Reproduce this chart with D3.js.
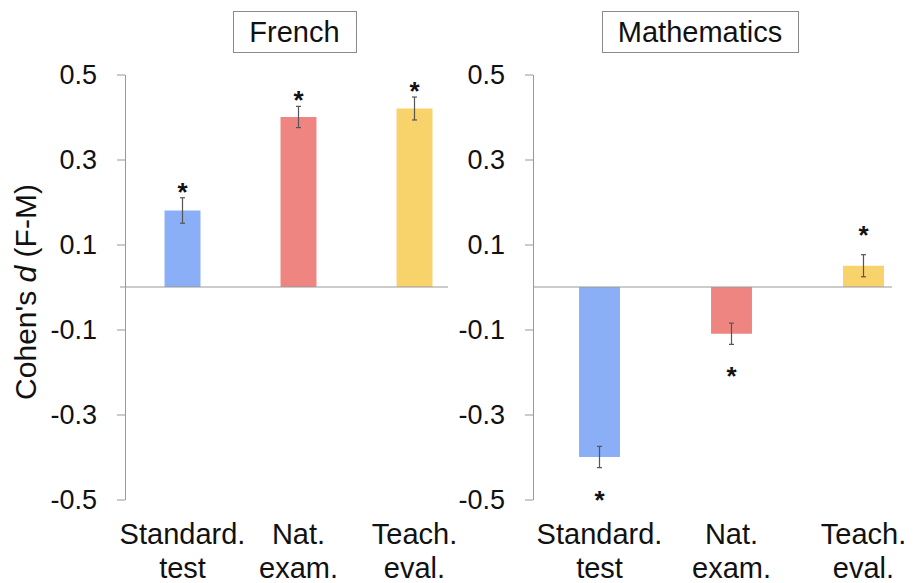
<!DOCTYPE html>
<html>
<head>
<meta charset="utf-8">
<script src="https://cdn.jsdelivr.net/npm/d3@7"></script>
<style>
  body { margin: 0; background: #fff; }
  text { font-family: "Liberation Sans", Arial, Helvetica, sans-serif; fill: #111; }
</style>
</head>
<body>
<script>
// values
var categories = ["Standard. test", "Nat. exam.", "Teach. eval."];
var frenchValues = [0.18, 0.40, 0.42];
var frenchErrors = [0.03, 0.025, 0.027];
var mathValues = [-0.40, -0.11, 0.05];
var mathErrors = [0.025, 0.025, 0.026];
var significant = [true, true, true];
var yTicks = [0.5, 0.3, 0.1, -0.1, -0.3, -0.5];
var barColors = ["#8aaff6", "#ee8581", "#f8d26b"];

var width = 914, height = 583;

const svg = d3.select("body")
    .append("svg")
    .attr("width", width)
    .attr("height", height);

var yscale = d3.scaleLinear()
    .domain([-0.5, 0.5])
    .range([499.5, 74.5]);

var panels = [
    {title: "French", values: frenchValues, errors: frenchErrors, axisX: 125, x0: 124.5, x1: 472.5,
     zero: [120, 448], box: [233, 356], starGap: 12},
    {title: "Mathematics", values: mathValues, errors: mathErrors, axisX: 533, x0: 533.5, x1: 929.5,
     zero: [533, 892], box: [602, 798], starGap: 26}
];

panels.forEach(function(p) {
    var g = svg.append("g");

    var xscale = d3.scaleBand()
        .domain(categories)
        .range([p.x0, p.x1])
        .paddingInner(0.69)
        .paddingOuter(0.345);

    // title box
    g.append("rect")
        .attr("x", p.box[0] + 0.5)
        .attr("y", 11.5)
        .attr("width", p.box[1] - p.box[0])
        .attr("height", 41)
        .attr("fill", "none")
        .attr("stroke", "#8a8a8a");
    g.append("text")
        .attr("x", (p.box[0] + p.box[1]) / 2)
        .attr("y", 42)
        .attr("text-anchor", "middle")
        .attr("font-size", 29)
        .text(p.title);

    // y-axis
    var axis = g.append("g")
        .attr("transform", `translate(${p.axisX},0)`)
        .call(d3.axisLeft(yscale)
            .tickValues(yTicks)
            .tickFormat(d => d.toFixed(1))
            .tickSize(8)
            .tickSizeOuter(0)
            .tickPadding(20));
    axis.select(".domain").attr("stroke", "#999");
    axis.selectAll(".tick line").attr("stroke", "#999");
    axis.selectAll(".tick text")
        .attr("font-size", 27)
        .attr("font-family", "Liberation Sans, Arial, sans-serif")
        .attr("fill", "#111");

    // bars
    g.selectAll(".bar")
        .data(p.values)
        .join("rect")
        .attr("x", (d, i) => xscale(categories[i]))
        .attr("y", d => yscale(Math.max(0, d)))
        .attr("width", xscale.bandwidth())
        .attr("height", d => Math.abs(yscale(d) - yscale(0)))
        .attr("fill", (d, i) => barColors[i]);

    // zero line
    g.append("line")
        .attr("x1", p.zero[0])
        .attr("x2", p.zero[1])
        .attr("y1", yscale(0))
        .attr("y2", yscale(0))
        .attr("stroke", "#999");

    // error bars
    p.values.forEach(function(v, i) {
        var cx = xscale(categories[i]) + xscale.bandwidth() / 2;
        var lo = yscale(v - p.errors[i]), hi = yscale(v + p.errors[i]);
        g.append("line").attr("x1", cx).attr("x2", cx).attr("y1", lo).attr("y2", hi)
            .attr("stroke", "#555").attr("stroke-width", 1.2);
        [lo, hi].forEach(function(yy) {
            g.append("line").attr("x1", cx - 2.5).attr("x2", cx + 2.5).attr("y1", yy).attr("y2", yy)
                .attr("stroke", "#555").attr("stroke-width", 1.2);
        });
        if (significant[i]) {
            // asterisk glyph centre sits ~15px above baseline at this size
            g.append("text")
                .attr("x", cx)
                .attr("y", v >= 0 ? hi - p.starGap + 15 : lo + p.starGap + 15)
                .attr("text-anchor", "middle")
                .attr("font-size", 26)
                .attr("font-weight", "bold")
                .text("*");
        }
    });

    // category labels
    categories.forEach(function(c, i) {
        var cx = xscale(c) + xscale.bandwidth() / 2;
        var words = c.split(" ");
        var t = g.append("text")
            .attr("text-anchor", "middle")
            .attr("font-size", 29);
        t.append("tspan").attr("x", cx).attr("y", 544).text(words[0]);
        t.append("tspan").attr("x", cx).attr("y", 578).text(words[1]);
    });
});

// y-axis title
var yt = svg.append("text")
    .attr("transform", "translate(36,292) rotate(-90)")
    .attr("text-anchor", "middle")
    .attr("font-size", 30);
yt.append("tspan").text("Cohen's ");
yt.append("tspan").attr("font-style", "italic").text("d");
yt.append("tspan").text(" (F-M)");
</script>
</body>
</html>
